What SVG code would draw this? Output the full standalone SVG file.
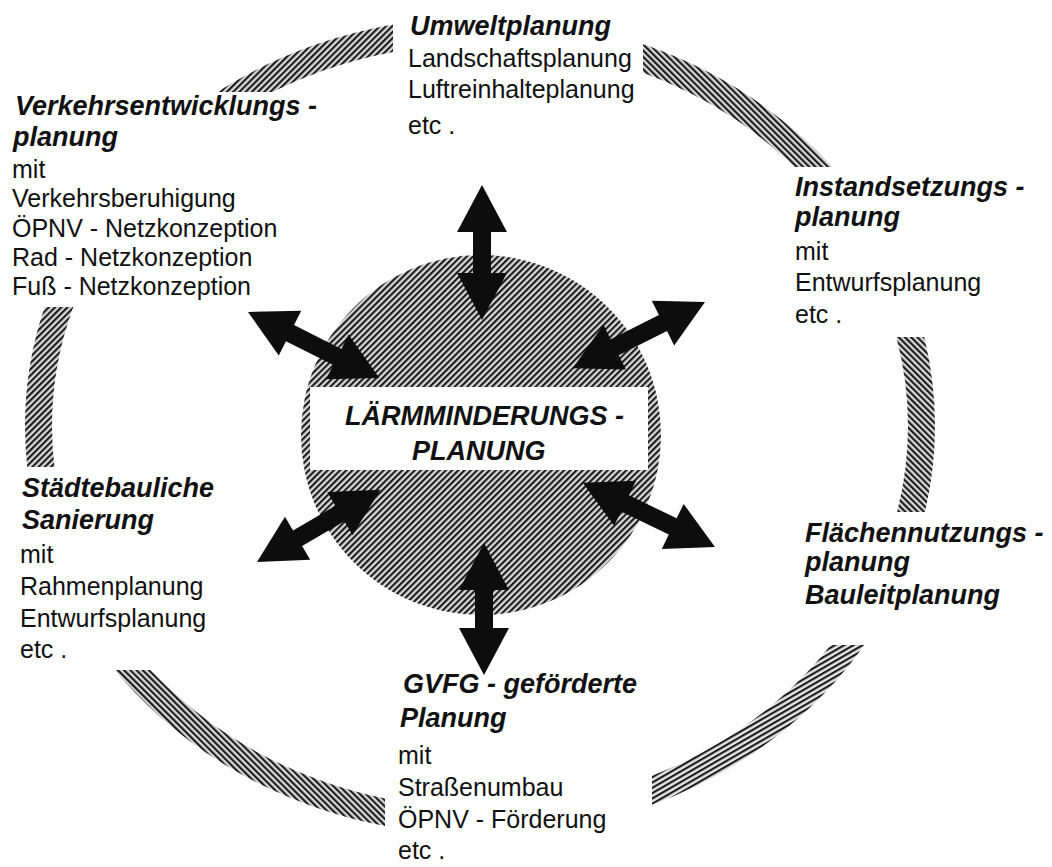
<svg xmlns="http://www.w3.org/2000/svg" width="1052" height="867" viewBox="0 0 1052 867">
<style>
.b{font-family:"Liberation Sans",Arial,sans-serif;font-size:25px;fill:#111}
.h{font-family:"Liberation Sans",Arial,sans-serif;font-size:27px;font-weight:bold;font-style:italic;fill:#111}
.arr{fill:#0d0d0d}
.ring{fill:none;stroke-width:27}
</style>
<defs>
<pattern id="hA" width="4.4" height="4.4" patternUnits="userSpaceOnUse" patternTransform="rotate(45)"><rect width="4.4" height="4.4" fill="#d8d8d8"/><rect width="2.1" height="4.4" fill="#1a1a1a"/></pattern>
<pattern id="hB" width="4.4" height="4.4" patternUnits="userSpaceOnUse" patternTransform="rotate(-45)"><rect width="4.4" height="4.4" fill="#d8d8d8"/><rect width="2.1" height="4.4" fill="#1a1a1a"/></pattern>
<pattern id="hC" width="4.6" height="4.6" patternUnits="userSpaceOnUse" patternTransform="rotate(60)"><rect width="4.6" height="4.6" fill="#e4e4e4"/><rect width="2.1" height="4.6" fill="#1a1a1a"/></pattern>
<clipPath id="cA"><rect x="0" y="0" width="393" height="92"/><rect x="0" y="307" width="240" height="160"/></clipPath>
<clipPath id="cB"><rect x="643" y="0" width="409" height="167"/><rect x="700" y="337" width="352" height="175"/><rect x="0" y="670" width="385" height="197"/></clipPath>
<clipPath id="cC"><rect x="652" y="645" width="400" height="222"/></clipPath>
</defs>
<rect width="1052" height="867" fill="#fff"/>
<g id="ring">
<ellipse class="ring" cx="480" cy="426" rx="441.5" ry="395.5" stroke="url(#hA)" clip-path="url(#cA)"/>
<ellipse class="ring" cx="480" cy="426" rx="441.5" ry="395.5" stroke="url(#hB)" clip-path="url(#cB)"/>
<ellipse class="ring" cx="480" cy="426" rx="441.5" ry="395.5" stroke="url(#hC)" clip-path="url(#cC)"/>
</g>
<g id="center">
<circle cx="481" cy="435" r="180" fill="url(#hA)"/>
<rect x="310" y="387" width="338" height="83" fill="#fff"/>
<text class="h" x="345" y="425">LÄRMMINDERUNGS -</text>
<text class="h" x="412" y="460">PLANUNG</text>
</g>
<g id="connectors">
<path class="arr" transform="translate(482,185) rotate(90)" d="M0,0 L47,-25 L47,-9 L88,-9 L88,-25 L135,0 L88,25 L88,9 L47,9 L47,25 Z"/>
<path class="arr" transform="translate(248,312) rotate(26.7)" d="M0,0 L47,-25 L47,-9 L100,-9 L100,-25 L147,0 L100,25 L100,9 L47,9 L47,25 Z"/>
<path class="arr" transform="translate(705,302) rotate(153.4)" d="M0,0 L47,-25 L47,-9 L101,-9 L101,-25 L148,0 L101,25 L101,9 L47,9 L47,25 Z"/>
<path class="arr" transform="translate(257,562) rotate(-30.3)" d="M0,0 L47,-25 L47,-9 L96,-9 L96,-25 L143,0 L96,25 L96,9 L47,9 L47,25 Z"/>
<path class="arr" transform="translate(715,547) rotate(205.9)" d="M0,0 L47,-25 L47,-9 L100,-9 L100,-25 L147,0 L100,25 L100,9 L47,9 L47,25 Z"/>
<path class="arr" transform="translate(484,543) rotate(90)" d="M0,0 L47,-25 L47,-9 L85,-9 L85,-25 L132,0 L85,25 L85,9 L47,9 L47,25 Z"/>
</g>
<g id="umwelt">
<text class="h" x="410" y="35">Umweltplanung</text>
<text class="b" x="408" y="67">Landschaftsplanung</text>
<text class="b" x="408" y="98">Luftreinhalteplanung</text>
<text class="b" x="408" y="134">etc .</text>
</g>
<g id="verkehr">
<text class="h" x="15" y="115">Verkehrsentwicklungs -</text>
<text class="h" x="13" y="146">planung</text>
<text class="b" x="12" y="178">mit</text>
<text class="b" x="12" y="207">Verkehrsberuhigung</text>
<text class="b" x="12" y="237">ÖPNV - Netzkonzeption</text>
<text class="b" x="12" y="266">Rad - Netzkonzeption</text>
<text class="b" x="12" y="295">Fuß - Netzkonzeption</text>
</g>
<g id="instand">
<text class="h" x="795" y="196">Instandsetzungs -</text>
<text class="h" x="795" y="226">planung</text>
<text class="b" x="795" y="260">mit</text>
<text class="b" x="795" y="291">Entwurfsplanung</text>
<text class="b" x="795" y="323">etc .</text>
</g>
<g id="staedtebau">
<text class="h" x="22" y="497">Städtebauliche</text>
<text class="h" x="22" y="529">Sanierung</text>
<text class="b" x="20" y="563">mit</text>
<text class="b" x="20" y="595">Rahmenplanung</text>
<text class="b" x="20" y="627">Entwurfsplanung</text>
<text class="b" x="20" y="658">etc .</text>
</g>
<g id="flaechen">
<text class="h" x="805" y="542">Flächennutzungs -</text>
<text class="h" x="805" y="571">planung</text>
<text class="h" x="805" y="604">Bauleitplanung</text>
</g>
<g id="gvfg">
<text class="h" x="403" y="693">GVFG - geförderte</text>
<text class="h" x="400" y="727">Planung</text>
<text class="b" x="398" y="764">mit</text>
<text class="b" x="398" y="796">Straßenumbau</text>
<text class="b" x="398" y="828">ÖPNV - Förderung</text>
<text class="b" x="398" y="859">etc .</text>
</g>
</svg>
